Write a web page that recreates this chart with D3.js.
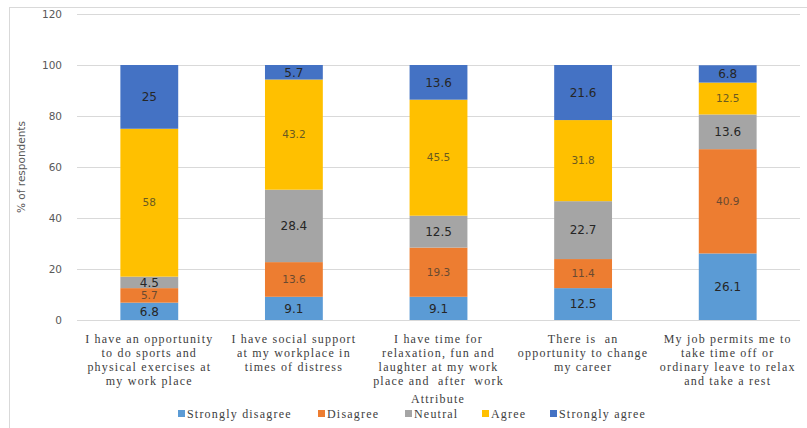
<!DOCTYPE html>
<html><head><meta charset="utf-8">
<script src="https://cdn.jsdelivr.net/npm/d3@7"></script>
<style>body{margin:0;background:#fff}svg{display:block}</style>
</head><body>
<svg id="c" width="807" height="428"></svg>
<script>
const categories = [
  ["I have an opportunity","to do sports and","physical exercises at","my work place"],
  ["I have social support","at my workplace in","times of distress"],
  ["I have time for","relaxation, fun and","laughter at my work","place and  after  work"],
  ["There is  an","opportunity to change","my career"],
  ["My job permits me to","take time off or","ordinary leave to relax","and take a rest"]
];
const seriesNames = ["Strongly disagree","Disagree","Neutral","Agree","Strongly agree"];
const stronglyDisagree = [6.8, 9.1, 9.1, 12.5, 26.1];
const disagree = [5.7, 13.6, 19.3, 11.4, 40.9];
const neutral = [4.5, 28.4, 12.5, 22.7, 13.6];
const agree = [58, 43.2, 45.5, 31.8, 12.5];
const stronglyAgree = [25, 5.7, 13.6, 21.6, 6.8];
const yTicks = [0, 20, 40, 60, 80, 100, 120];
const colors = ["#5B9BD5","#ED7D31","#A5A5A5","#FFC000","#4472C4"];
const labelColors = ["#262626","#6a4a30","#262626","#6b5a20","#262626"];

const seriesValues = [stronglyDisagree, disagree, neutral, agree, stronglyAgree];
const rows = categories.map((c, i) => {
  const r = {idx: i};
  seriesNames.forEach((s, k) => r[s] = seriesValues[k][i]);
  return r;
});

const SERIF = "'Liberation Serif', 'Times New Roman', serif";

const svg = d3.select("#c");
// frame
svg.append("rect").attr("x", 9.5).attr("y", 7.5).attr("width", 820).attr("height", 440)
  .attr("fill", "none").attr("stroke", "#d9d9d9").attr("stroke-width", 1);

const x = d3.scaleBand().domain(d3.range(categories.length)).range([77, 800]).paddingInner(0.6).paddingOuter(0.3);
const y = d3.scaleLinear().domain([0, 120]).range([320, 14]);

// gridlines
svg.append("g").selectAll("line").data(yTicks).join("line")
  .attr("x1", 77).attr("x2", 800)
  .attr("y1", d => Math.round(y(d)) + 0.5).attr("y2", d => Math.round(y(d)) + 0.5)
  .attr("stroke", "#d9d9d9").attr("stroke-width", 1);

// y axis labels
const yAxis = d3.axisLeft(y).tickValues(yTicks).tickSize(0).tickPadding(0);
const ya = svg.append("g").attr("transform", "translate(62,0)").call(yAxis);
ya.select(".domain").remove();
ya.selectAll("text").attr("font-family", "DejaVu Sans").attr("font-size", 10.5).attr("fill", "#595959");

svg.append("text").attr("transform", "translate(25,167) rotate(-90)")
  .attr("text-anchor", "middle").attr("font-family", "DejaVu Sans").attr("font-size", 10.5)
  .attr("fill", "#595959").text("% of respondents");

// stacks
const stack = d3.stack().keys(seriesNames)(rows);
const g = svg.append("g");
stack.forEach((layer, k) => {
  g.append("g").selectAll("rect").data(layer).join("rect")
    .attr("x", d => x(d.data.idx))
    .attr("width", x.bandwidth())
    .attr("y", d => y(d[1]))
    .attr("height", d => y(d[0]) - y(d[1]))
    .attr("fill", colors[k]);
});
stack.forEach((layer, k) => {
  g.append("g").selectAll("text").data(layer).join("text")
    .attr("x", d => x(d.data.idx) + x.bandwidth() / 2)
    .attr("y", d => (y(d[0]) + y(d[1])) / 2)
    .attr("dy", "0.36em")
    .attr("text-anchor", "middle")
    .attr("font-family", "DejaVu Sans")
    .attr("font-size", (k === 1 || k === 3) ? 10.5 : 12)
    .attr("fill", labelColors[k])
    .text(d => d.data[seriesNames[k]]);
});

// x labels
const xl = svg.append("g");
categories.forEach((lines, i) => {
  const t = xl.append("text").attr("text-anchor", "middle")
    .attr("font-family", SERIF).attr("font-size", 12).attr("letter-spacing", 1.2)
    .attr("fill", "#404040").style("white-space", "pre");
  lines.forEach((ln, j) => {
    t.append("tspan").attr("x", x(i) + x.bandwidth() / 2).attr("y", 343 + j * 14).text(ln);
  });
});

// axis title
svg.append("text").attr("x", 438).attr("y", 403).attr("text-anchor", "middle")
  .attr("font-family", SERIF).attr("font-size", 12).attr("letter-spacing", 1.2)
  .attr("fill", "#404040").text("Attribute");

// legend
const legendX = [178, 318, 405, 482, 550];
const lg = svg.append("g");
seriesNames.forEach((s, k) => {
  lg.append("rect").attr("x", legendX[k]).attr("y", 410).attr("width", 7).attr("height", 7).attr("fill", colors[k]);
  lg.append("text").attr("x", legendX[k] + 9).attr("y", 418)
    .attr("font-family", SERIF).attr("font-size", 12).attr("letter-spacing", 1.2)
    .attr("fill", "#404040").text(s);
});
</script>
</body></html>
